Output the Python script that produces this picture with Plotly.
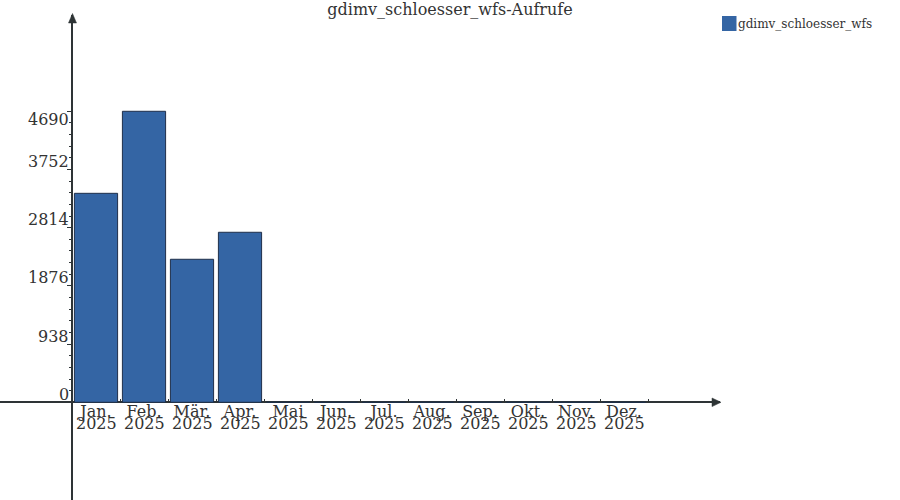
import plotly.graph_objects as go

# ---------------- data ----------------
months = ["Jan.", "Feb.", "Mär.", "Apr.", "Mai", "Jun.", "Jul.", "Aug.", "Sep.", "Okt.", "Nov.", "Dez."]
years = ["2025"] * 12
calls = [3368, 4690, 2305, 2740, 0, 0, 0, 0, 0, 0, 0, 0]
y_ticks = [0, 938, 1876, 2814, 3752, 4690]
series_name = "gdimv_schloesser_wfs"
title_text = "gdimv_schloesser_wfs-Aufrufe"

# ---------------- style / layout ----------------
W, H = 900, 500
M_L, M_R, M_T, M_B = 0, 180, 15, 0
PW, PH = W - M_L - M_R, H - M_T - M_B
FONT = "DejaVu Serif"
AX = "#2e3436"
TXT = "#333333"
FILL = "#3465a4"
EDGE = "#1f2f4a"

Y_RANGE = [-1575, 6242]
X_RANGE = [-2, 13]


def px_x(px):
    return (px - M_L) / PW


def px_y(py):
    return (H - M_B - py) / PH


y_axis_pos = px_x(72)
x_axis_pos = (0 - Y_RANGE[0]) / (Y_RANGE[1] - Y_RANGE[0])

fig = go.Figure()
fig.add_trace(go.Bar(
    x=months, y=calls, name=series_name, width=0.9,
    marker=dict(color=FILL, line=dict(color=EDGE, width=1)),
    showlegend=False,
))

# minor ticks (4 between each major)
minor_vals = []
for a, b in zip(y_ticks[:-1], y_ticks[1:]):
    step = (b - a) / 5
    minor_vals += [a + step * k for k in range(1, 5)]

annotations = []
# y tick labels
for i, v in enumerate(y_ticks):
    annotations.append(dict(
        x=y_axis_pos, xref="paper", xanchor="right", xshift=-1,
        y=v, yref="y", yanchor="middle", yshift=(-8 if i == len(y_ticks) - 1 else 8),
        text=str(v), showarrow=False, font=dict(family=FONT, size=16, color=TXT),
    ))
# year labels under months
for m, yr in zip(months, years):
    annotations.append(dict(
        x=m, xref="x", xanchor="center",
        y=px_y(423), yref="paper", yanchor="middle",
        text=yr, showarrow=False, font=dict(family=FONT, size=16, color=TXT),
    ))
# legend text
annotations.append(dict(
    x=px_x(736), xref="paper", xanchor="left",
    y=px_y(23.5), yref="paper", yanchor="middle",
    text=series_name, showarrow=False, font=dict(family=FONT, size=12, color=TXT),
))


def tri(pts):
    s = "M " + " L ".join(f"{px_x(a):.5f},{px_y(b):.5f}" for a, b in pts) + " Z"
    return s


shapes = [
    # y-axis arrow head
    dict(type="path", xref="paper", yref="paper",
         path=tri([(72.5, 13.5), (68.5, 23), (76.5, 23)]),
         fillcolor=AX, line=dict(color=AX, width=0.5)),
    # x-axis arrow head
    dict(type="path", xref="paper", yref="paper",
         path=tri([(721, 402.3), (712, 398), (712, 406.6)]),
         fillcolor=AX, line=dict(color=AX, width=0.5)),
    # legend swatch
    dict(type="rect", xref="paper", yref="paper",
         x0=px_x(722), x1=px_x(736.5), y0=px_y(31), y1=px_y(16),
         fillcolor=FILL, line=dict(width=0)),
]

fig.update_layout(
    width=W, height=H,
    margin=dict(l=M_L, r=M_R, t=M_T, b=M_B),
    paper_bgcolor="white", plot_bgcolor="white",
    font=dict(family=FONT, size=16, color=TXT),
    title=dict(text=title_text, x=0.5, xref="container", xanchor="center",
               y=1 - 9 / H, yref="container", yanchor="middle",
               font=dict(family=FONT, size=16, color=TXT)),
    showlegend=False,
    bargap=0.1,
    annotations=annotations,
    shapes=shapes,
    xaxis=dict(
        type="category", range=X_RANGE, anchor="free", position=x_axis_pos,
        showline=False, showgrid=False, zeroline=False,
        tickson="boundaries", ticks="inside", ticklen=3, tickcolor=AX, tickwidth=1,
        tickfont=dict(family=FONT, size=16, color=TXT),
        ticklabelstandoff=-2,
        automargin=False, fixedrange=True,
    ),
    yaxis=dict(
        range=Y_RANGE, anchor="free", position=y_axis_pos,
        showline=True, linecolor=AX, linewidth=1.5,
        showgrid=False, zeroline=True, zerolinecolor=AX, zerolinewidth=1.5,
        tickmode="array", tickvals=y_ticks, showticklabels=False,
        ticks="outside", ticklen=4, tickcolor=AX, tickwidth=1,
        minor=dict(tickmode="array", tickvals=minor_vals, ticks="outside",
                   ticklen=2, tickcolor=AX, tickwidth=1),
        automargin=False, fixedrange=True,
    ),
)

fig.write_html(
    "out.html",
    config={"displayModeBar": False},
    post_script="document.body.style.margin='0';document.body.style.padding='0';",
)
